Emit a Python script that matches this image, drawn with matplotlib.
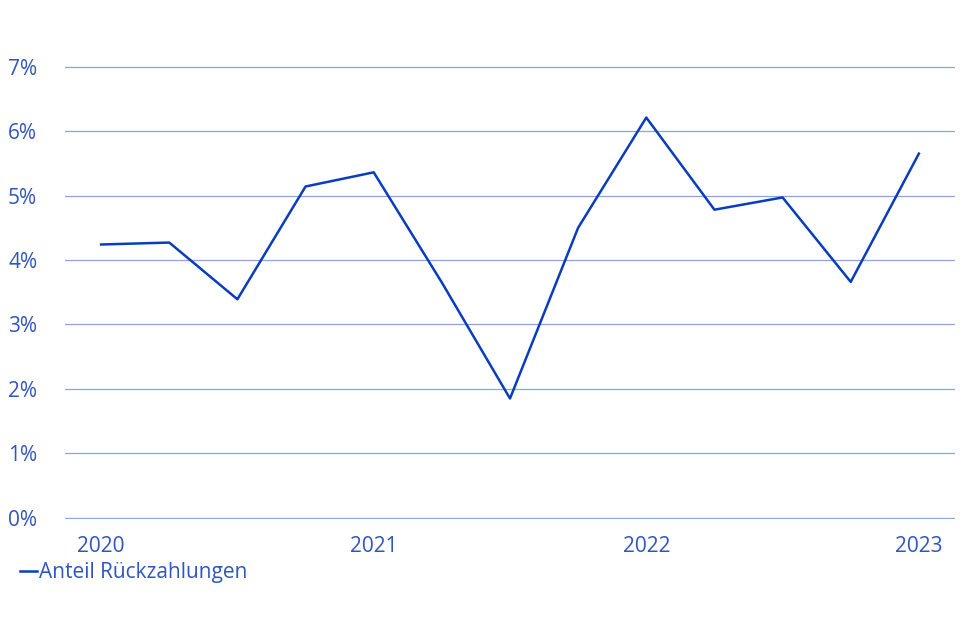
import matplotlib
matplotlib.use("Agg")
import matplotlib.pyplot as plt
from matplotlib.ticker import FuncFormatter
from matplotlib.lines import Line2D

plt.rcParams["font.family"] = ["Open Sans", "DejaVu Sans"]

quarters = list(range(13))
share = [4.24, 4.27, 3.39, 5.14, 5.36, 3.65, 1.85, 4.50, 6.21, 4.78, 4.97, 3.66, 5.65]
year_pos = [0, 4, 8, 12]
year_labels = ["2020", "2021", "2022", "2023"]
y_ticks = [0, 1, 2, 3, 4, 5, 6, 7]

line_c = "#0a3dbd"
text_c = "#2f55c0"
grid_c = "#8ea3e0"

fig = plt.figure(figsize=(9.6, 6.4), dpi=100)
ax = fig.add_axes([65 / 960, 121 / 640, 890 / 960, 453 / 640])
ax.plot(quarters, share, color=line_c, lw=1.8)
ax.set_xlim(-0.53, 12.53)
ax.set_ylim(-0.02, 7.01)
ax.set_yticks(y_ticks)
ax.yaxis.set_major_formatter(FuncFormatter(lambda v, p: f"{v:.0f}%"))
ax.set_xticks(year_pos)
ax.set_xticklabels(year_labels)
ax.grid(axis="y", color=grid_c, lw=0.9)
ax.set_axisbelow(True)
for s in ax.spines.values():
    s.set_visible(False)
ax.tick_params(length=0, labelsize=15, labelcolor=text_c)
ax.tick_params(axis="y", pad=20)
ax.tick_params(axis="x", pad=12)

handle = Line2D([], [], color=line_c, lw=1.8)
ax.legend([handle], ["Anteil Rückzahlungen"], loc="upper left",
          bbox_to_anchor=(-0.05, -0.095), frameon=False, fontsize=15,
          labelcolor=text_c, handlelength=0.8, handletextpad=0.1,
          borderaxespad=0, borderpad=0)

fig.savefig("out.png", dpi=100)
